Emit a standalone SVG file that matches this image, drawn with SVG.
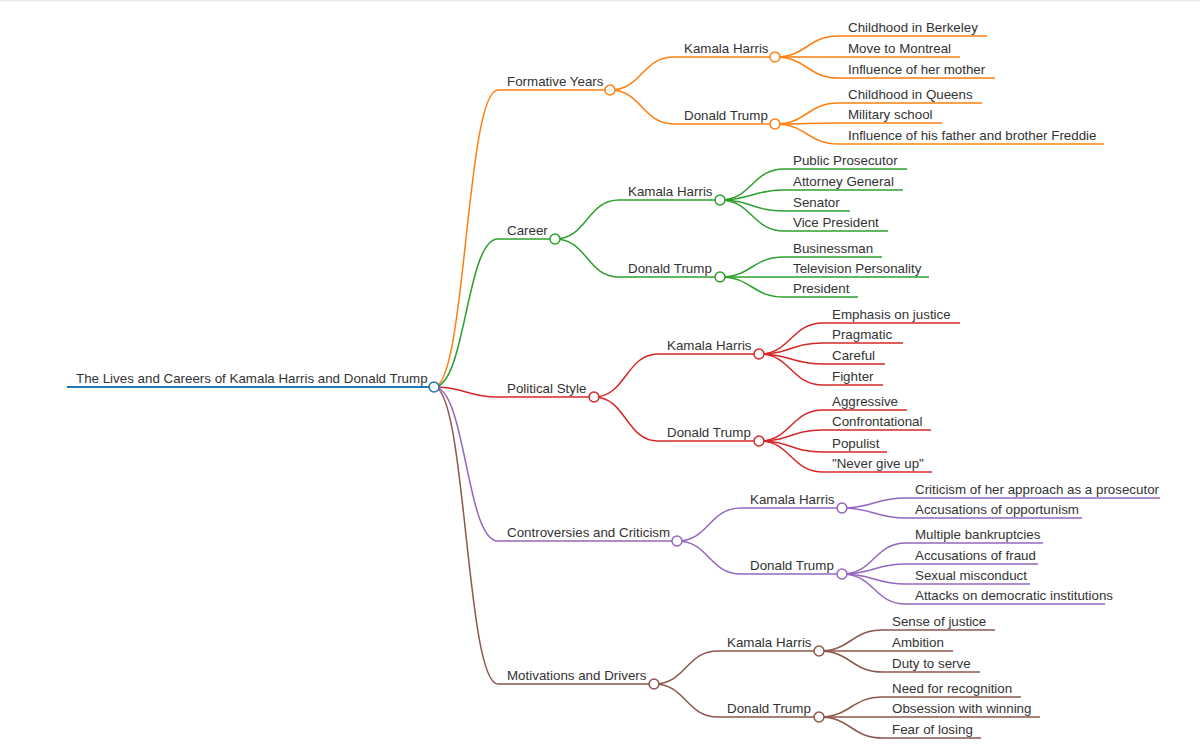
<svg xmlns="http://www.w3.org/2000/svg" width="1200" height="752" viewBox="0 0 1200 752">
<style>
text{font-family:"Liberation Sans",Arial,sans-serif;font-size:13.35px;fill:#333}
path,line{fill:none;stroke-width:1.5}
circle{fill:#fff;stroke-width:1.5}
.b{stroke:#1f77b4}.o{stroke:#ff7f0e}.g{stroke:#2ca02c}.r{stroke:#d62728}.p{stroke:#9467bd}.n{stroke:#8c564b}
.root{stroke-width:2}
</style>
<rect x="0" y="0" width="1200" height="752" fill="#fff"/>
<line x1="0" y1="0.5" x2="1200" y2="0.5" stroke="#e6e6e6" stroke-width="1"/>
<g id="connectors">
<path class="o" d="M434,387C466,387 466,90 498,90"/>
<path class="g" d="M434,387C466,387 466,239 498,239"/>
<path class="r" d="M434,387C466,387 466,397 498,397"/>
<path class="p" d="M434,387C466,387 466,541 498,541"/>
<path class="n" d="M434,387C466,387 466,684 498,684"/>
<path class="o" d="M610,90C642,90 642,57 674,57"/>
<path class="o" d="M610,90C642,90 642,124 674,124"/>
<path class="g" d="M555,239C587,239 587,200 619,200"/>
<path class="g" d="M555,239C587,239 587,277 619,277"/>
<path class="r" d="M594,397C626,397 626,354 658,354"/>
<path class="r" d="M594,397C626,397 626,441 658,441"/>
<path class="p" d="M677,541C709,541 709,508 741,508"/>
<path class="p" d="M677,541C709,541 709,574 741,574"/>
<path class="n" d="M654,684C686,684 686,651 718,651"/>
<path class="n" d="M654,684C686,684 686,717 718,717"/>
<path class="o" d="M775,57C807,57 807,36 839,36"/>
<path class="o" d="M775,57C807,57 807,57 839,57"/>
<path class="o" d="M775,57C807,57 807,78 839,78"/>
<path class="o" d="M775,124C807,124 807,103 839,103"/>
<path class="o" d="M775,124C807,124 807,123 839,123"/>
<path class="o" d="M775,124C807,124 807,144 839,144"/>
<path class="g" d="M720,200C752,200 752,169 784,169"/>
<path class="g" d="M720,200C752,200 752,190 784,190"/>
<path class="g" d="M720,200C752,200 752,211 784,211"/>
<path class="g" d="M720,200C752,200 752,231 784,231"/>
<path class="g" d="M720,277C752,277 752,257 784,257"/>
<path class="g" d="M720,277C752,277 752,277 784,277"/>
<path class="g" d="M720,277C752,277 752,297 784,297"/>
<path class="r" d="M759,354C791,354 791,323 823,323"/>
<path class="r" d="M759,354C791,354 791,343 823,343"/>
<path class="r" d="M759,354C791,354 791,364 823,364"/>
<path class="r" d="M759,354C791,354 791,385 823,385"/>
<path class="r" d="M759,441C791,441 791,410 823,410"/>
<path class="r" d="M759,441C791,441 791,430 823,430"/>
<path class="r" d="M759,441C791,441 791,452 823,452"/>
<path class="r" d="M759,441C791,441 791,472 823,472"/>
<path class="p" d="M842,508C874,508 874,498 906,498"/>
<path class="p" d="M842,508C874,508 874,518 906,518"/>
<path class="p" d="M842,574C874,574 874,543 906,543"/>
<path class="p" d="M842,574C874,574 874,564 906,564"/>
<path class="p" d="M842,574C874,574 874,584 906,584"/>
<path class="p" d="M842,574C874,574 874,604 906,604"/>
<path class="n" d="M819,651C851,651 851,630 883,630"/>
<path class="n" d="M819,651C851,651 851,651 883,651"/>
<path class="n" d="M819,651C851,651 851,672 883,672"/>
<path class="n" d="M819,717C851,717 851,697 883,697"/>
<path class="n" d="M819,717C851,717 851,717 883,717"/>
<path class="n" d="M819,717C851,717 851,738 883,738"/>
</g>
<g id="root"><line class="b root" x1="67" y1="387" x2="434" y2="387"/><circle class="b" cx="434" cy="387" r="5"/><text x="76" y="383">The Lives and Careers of Kamala Harris and Donald Trump</text></g>

<g id="formative"><line class="o" x1="498" y1="90" x2="610" y2="90"/><circle class="o" cx="610" cy="90" r="5"/><text x="507" y="86">Formative Years</text></g>
<g id="formative-kh"><line class="o" x1="674" y1="57" x2="775" y2="57"/><circle class="o" cx="775" cy="57" r="5"/><text x="684" y="53">Kamala Harris</text></g>
<g id="formative-dt"><line class="o" x1="674" y1="124" x2="775" y2="124"/><circle class="o" cx="775" cy="124" r="5"/><text x="684" y="120">Donald Trump</text></g>
<g id="f1"><line class="o" x1="839" y1="36" x2="987" y2="36"/><text x="848" y="32">Childhood in Berkeley</text></g>
<g id="f2"><line class="o" x1="839" y1="57" x2="960" y2="57"/><text x="848" y="53">Move to Montreal</text></g>
<g id="f3"><line class="o" x1="839" y1="78" x2="995" y2="78"/><text x="848" y="74">Influence of her mother</text></g>
<g id="f4"><line class="o" x1="839" y1="103" x2="982" y2="103"/><text x="848" y="99">Childhood in Queens</text></g>
<g id="f5"><line class="o" x1="839" y1="123" x2="942" y2="123"/><text x="848" y="119">Military school</text></g>
<g id="f6"><line class="o" x1="839" y1="144" x2="1104" y2="144"/><text x="848" y="140">Influence of his father and brother Freddie</text></g>

<g id="career"><line class="g" x1="498" y1="239" x2="555" y2="239"/><circle class="g" cx="555" cy="239" r="5"/><text x="507" y="235">Career</text></g>
<g id="career-kh"><line class="g" x1="619" y1="200" x2="720" y2="200"/><circle class="g" cx="720" cy="200" r="5"/><text x="628" y="196">Kamala Harris</text></g>
<g id="career-dt"><line class="g" x1="619" y1="277" x2="720" y2="277"/><circle class="g" cx="720" cy="277" r="5"/><text x="628" y="273">Donald Trump</text></g>
<g id="c1"><line class="g" x1="784" y1="169" x2="907" y2="169"/><text x="793" y="165">Public Prosecutor</text></g>
<g id="c2"><line class="g" x1="784" y1="190" x2="903" y2="190"/><text x="793" y="186">Attorney General</text></g>
<g id="c3"><line class="g" x1="784" y1="211" x2="850" y2="211"/><text x="793" y="207">Senator</text></g>
<g id="c4"><line class="g" x1="784" y1="231" x2="888" y2="231"/><text x="793" y="227">Vice President</text></g>
<g id="c5"><line class="g" x1="784" y1="257" x2="882" y2="257"/><text x="793" y="253">Businessman</text></g>
<g id="c6"><line class="g" x1="784" y1="277" x2="929" y2="277"/><text x="793" y="273">Television Personality</text></g>
<g id="c7"><line class="g" x1="784" y1="297" x2="858" y2="297"/><text x="793" y="293">President</text></g>

<g id="political"><line class="r" x1="498" y1="397" x2="594" y2="397"/><circle class="r" cx="594" cy="397" r="5"/><text x="507" y="393">Political Style</text></g>
<g id="political-kh"><line class="r" x1="658" y1="354" x2="759" y2="354"/><circle class="r" cx="759" cy="354" r="5"/><text x="667" y="350">Kamala Harris</text></g>
<g id="political-dt"><line class="r" x1="658" y1="441" x2="759" y2="441"/><circle class="r" cx="759" cy="441" r="5"/><text x="667" y="437">Donald Trump</text></g>
<g id="p1"><line class="r" x1="823" y1="323" x2="960" y2="323"/><text x="832" y="319">Emphasis on justice</text></g>
<g id="p2"><line class="r" x1="823" y1="343" x2="903" y2="343"/><text x="832" y="339">Pragmatic</text></g>
<g id="p3"><line class="r" x1="823" y1="364" x2="885" y2="364"/><text x="832" y="360">Careful</text></g>
<g id="p4"><line class="r" x1="823" y1="385" x2="883" y2="385"/><text x="832" y="381">Fighter</text></g>
<g id="p5"><line class="r" x1="823" y1="410" x2="907" y2="410"/><text x="832" y="406">Aggressive</text></g>
<g id="p6"><line class="r" x1="823" y1="430" x2="931" y2="430"/><text x="832" y="426">Confrontational</text></g>
<g id="p7"><line class="r" x1="823" y1="452" x2="887" y2="452"/><text x="832" y="448">Populist</text></g>
<g id="p8"><line class="r" x1="823" y1="472" x2="932" y2="472"/><text x="832" y="468">"Never give up"</text></g>

<g id="controversies"><line class="p" x1="498" y1="541" x2="677" y2="541"/><circle class="p" cx="677" cy="541" r="5"/><text x="507" y="537">Controversies and Criticism</text></g>
<g id="controversies-kh"><line class="p" x1="741" y1="508" x2="842" y2="508"/><circle class="p" cx="842" cy="508" r="5"/><text x="750" y="504">Kamala Harris</text></g>
<g id="controversies-dt"><line class="p" x1="741" y1="574" x2="842" y2="574"/><circle class="p" cx="842" cy="574" r="5"/><text x="750" y="570">Donald Trump</text></g>
<g id="k1"><line class="p" x1="906" y1="498" x2="1160" y2="498"/><text x="915" y="494">Criticism of her approach as a prosecutor</text></g>
<g id="k2"><line class="p" x1="906" y1="518" x2="1082" y2="518"/><text x="915" y="514">Accusations of opportunism</text></g>
<g id="k3"><line class="p" x1="906" y1="543" x2="1043" y2="543"/><text x="915" y="539">Multiple bankruptcies</text></g>
<g id="k4"><line class="p" x1="906" y1="564" x2="1038" y2="564"/><text x="915" y="560">Accusations of fraud</text></g>
<g id="k5"><line class="p" x1="906" y1="584" x2="1030" y2="584"/><text x="915" y="580">Sexual misconduct</text></g>
<g id="k6"><line class="p" x1="906" y1="604" x2="1105" y2="604"/><text x="915" y="600">Attacks on democratic institutions</text></g>

<g id="motivations"><line class="n" x1="498" y1="684" x2="654" y2="684"/><circle class="n" cx="654" cy="684" r="5"/><text x="507" y="680">Motivations and Drivers</text></g>
<g id="motivations-kh"><line class="n" x1="718" y1="651" x2="819" y2="651"/><circle class="n" cx="819" cy="651" r="5"/><text x="727" y="647">Kamala Harris</text></g>
<g id="motivations-dt"><line class="n" x1="718" y1="717" x2="819" y2="717"/><circle class="n" cx="819" cy="717" r="5"/><text x="727" y="713">Donald Trump</text></g>
<g id="m1"><line class="n" x1="883" y1="630" x2="995" y2="630"/><text x="892" y="626">Sense of justice</text></g>
<g id="m2"><line class="n" x1="883" y1="651" x2="953" y2="651"/><text x="892" y="647">Ambition</text></g>
<g id="m3"><line class="n" x1="883" y1="672" x2="980" y2="672"/><text x="892" y="668">Duty to serve</text></g>
<g id="m4"><line class="n" x1="883" y1="697" x2="1021" y2="697"/><text x="892" y="693">Need for recognition</text></g>
<g id="m5"><line class="n" x1="883" y1="717" x2="1040" y2="717"/><text x="892" y="713">Obsession with winning</text></g>
<g id="m6"><line class="n" x1="883" y1="738" x2="981" y2="738"/><text x="892" y="734">Fear of losing</text></g>
</svg>
